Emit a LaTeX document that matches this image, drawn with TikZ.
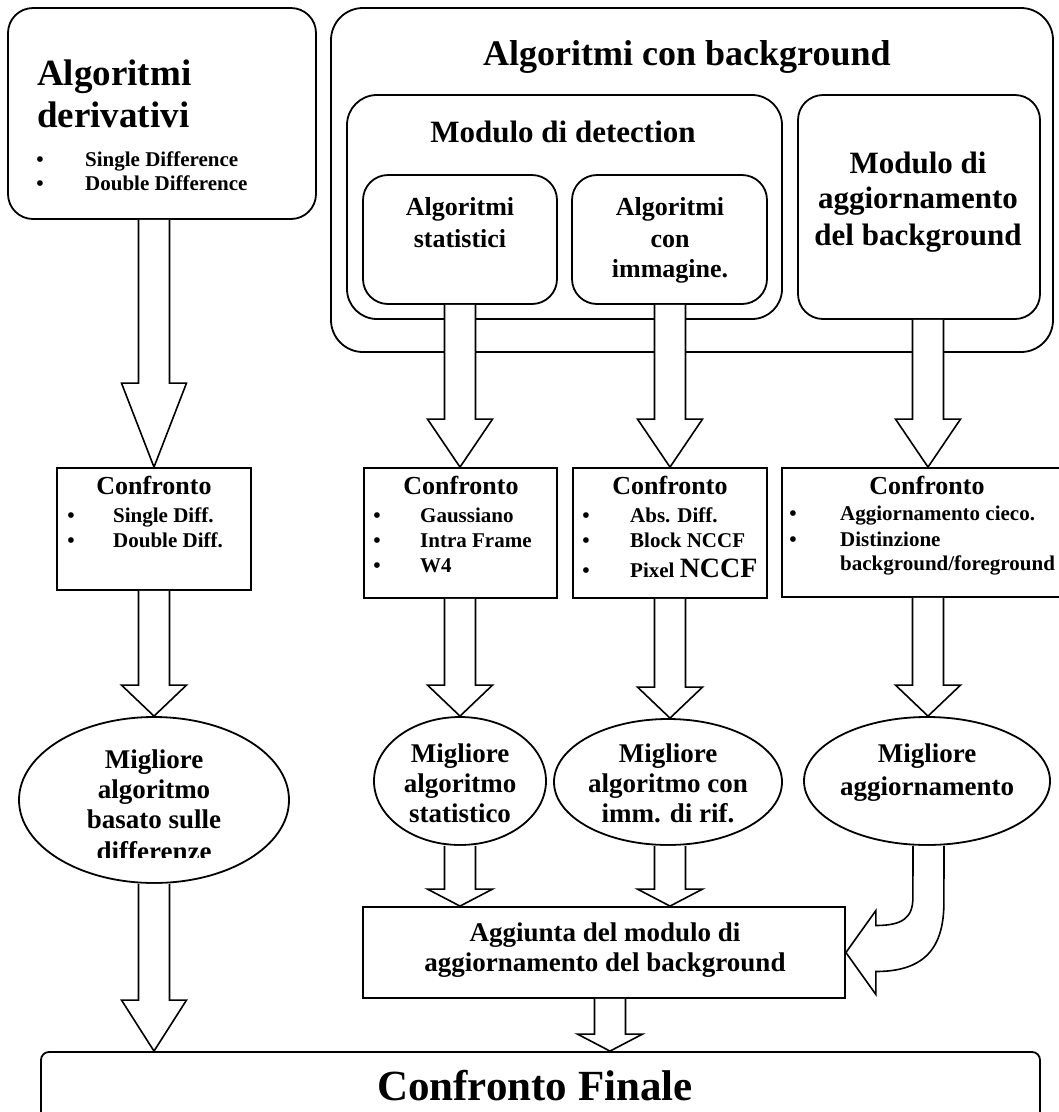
\documentclass[tikz,border=0pt]{standalone}
\usepackage{fontspec}
\setmainfont{Liberation Serif}
\usetikzlibrary{calc,shapes.geometric}
\tikzset{
  rbox/.style={draw, line width=1.8pt, rounded corners=#1, fill=white, inner sep=0pt},
  sbox/.style={draw, line width=1.8pt, fill=white, inner sep=0pt},
  ell/.style={draw, ellipse, line width=1.8pt, fill=white, inner sep=0pt},
  barrow/.style={draw, line width=1.6pt, fill=white, line join=miter},
  txt/.style={inner sep=0pt, anchor=base},
  txtw/.style={inner sep=0pt, anchor=base west},
}
\newcommand{\tc}[5]{\node[txt, font=\bfseries\fontsize{#4}{#4}\selectfont] (#1) at (#2,#3) {#5};}
\newcommand{\tw}[5]{\node[txtw, font=\bfseries\fontsize{#4}{#4}\selectfont] (#1) at (#2,#3) {#5};}
% vertical block arrow: #1 x centre, #2 start anchor, #3 end anchor, #4 head length
\newcommand{\varrow}[4]{%
  \draw[barrow] let \p1=(#2), \p2=(#3) in
    ({#1pt-15.5pt},\y1) -- ({#1pt-15.5pt},{\y2+#4pt}) -- ({#1pt-32.5pt},{\y2+#4pt})
    -- (#1pt,\y2) -- ({#1pt+32.5pt},{\y2+#4pt}) -- ({#1pt+15.5pt},{\y2+#4pt}) -- ({#1pt+15.5pt},\y1);}
\begin{document}
\begin{tikzpicture}[x=1pt,y=-1pt]
\useasboundingbox (0,0) rectangle (1059,1112);
\clip (0,0) rectangle (1059,1112);
\fill[white] (0,0) rectangle (1059,1112);
% ---- boxes
\node[rbox=25pt, minimum width=308pt, minimum height=211pt] (deriv) at (162,113.5) {};
\node[rbox=32pt, minimum width=722pt, minimum height=344pt] (bg) at (692,180) {};
\node[rbox=30pt, minimum width=435pt, minimum height=224pt] (det) at (564.5,207) {};
\node[rbox=25pt, minimum width=194pt, minimum height=129pt] (stat) at (460,239.5) {};
\node[rbox=25pt, minimum width=195pt, minimum height=129pt] (imm) at (669.5,239.5) {};
\node[rbox=25pt, minimum width=242pt, minimum height=224pt] (agg) at (919,207) {};
\node[sbox, minimum width=194pt, minimum height=122pt] (cA) at (154,529) {};
\node[sbox, minimum width=193pt, minimum height=130pt] (cB) at (460.5,533) {};
\node[sbox, minimum width=194pt, minimum height=130pt] (cC) at (670,533) {};
\node[sbox, minimum width=300pt, minimum height=129pt] (cD) at (932,532.5) {};
\node[ell, minimum width=270pt, minimum height=166pt] (e0) at (154,800) {};
\node[ell, minimum width=172pt, minimum height=128pt] (e1) at (460,781) {};
\node[ell, minimum width=228pt, minimum height=126pt] (e2) at (668,782) {};
\node[ell, minimum width=246pt, minimum height=128pt] (e3) at (927,781) {};
\node[sbox, minimum width=482pt, minimum height=91pt] (aggi) at (604,952.5) {};
\node[rbox=8pt, minimum width=999pt, minimum height=100pt] (fin) at (540.5,1102) {};
% ---- block arrows
\varrow{154}{deriv.south}{cA.north}{84}
\varrow{460}{stat.south}{cB.north}{48}
\varrow{670}{imm.south}{cC.north}{48}
\varrow{928}{agg.south}{cD.north}{48}
\varrow{154}{cA.south}{e0.north}{31}
\varrow{460}{cB.south}{e1.north}{31}
\varrow{670}{cC.south}{e2.north}{31}
\varrow{928}{cD.south}{e3.north}{31}
\varrow{154}{e0.south}{fin.north}{51}
\varrow{460}{e1.south}{aggi.north}{17}
\varrow{670}{e2.south}{aggi.north}{17}
\varrow{610}{aggi.south}{fin.north}{17}
% curved arrow from e3 into the Aggiunta box
\draw[barrow] let \p1=(e3.south), \p2=(aggi.east) in
  ({\x1-14pt},\y1) -- ({\x2+67pt},{\y2+55pt})
  .. controls ({\x2+67pt},{\y2+35pt}) and ({\x2+57pt},{\y2+27pt}) .. ({\x2+30pt},{\y2+27pt})
  -- ({\x2+30pt},{\y2+42pt}) -- (\x2,\y2) -- ({\x2+30pt},{\y2-42pt})
  -- ({\x2+30pt},{\y2-19pt})
  .. controls ({\x2+79pt},{\y2-19pt}) and ({\x2+98pt},{\y2+5pt}) .. ({\x2+98pt},{\y2+50pt})
  -- ({\x1+17pt},\y1);
% ---- texts
\tw{t1}{37}{85}{37}{Algoritmi}
\tw{t2}{37}{127}{37}{derivativi}
\tc{b1}{40}{166}{21}{•}
\tw{t3}{85}{166}{21}{Single Difference}
\tc{b2}{40}{190}{21}{•}
\tw{t4}{85}{190}{21}{Double Difference}
\tw{t5}{483}{65}{36}{Algoritmi con background}
\tc{t6}{563}{142}{31}{Modulo di detection}
\tc{t7}{460}{215}{26}{Algoritmi}
\tc{t8}{460}{247}{26}{statistici}
\tc{t9}{670}{215}{26}{Algoritmi}
\tc{t10}{670}{247}{26}{con}
\tc{t11}{670}{277}{26}{immagine.}
\tc{t12}{918}{173}{31}{Modulo di}
\tc{t13}{918}{208}{31}{aggiornamento}
\tc{t14}{918}{245}{31}{del background}
% confronto A
\tc{t15}{154}{494}{26}{Confronto}
\tc{b3}{71}{522}{21}{•}\tw{t16}{113}{522}{21}{Single Diff.}
\tc{b4}{71}{547}{21}{•}\tw{t17}{113}{547}{21}{Double Diff.}
% confronto B
\tc{t18}{461}{494}{26}{Confronto}
\tc{b5}{377}{522}{21}{•}\tw{t19}{420}{522}{21}{Gaussiano}
\tc{b6}{377}{547}{21}{•}\tw{t20}{420}{547}{21}{Intra Frame}
\tc{b7}{377}{572}{21}{•}\tw{t21}{420}{572}{21}{W4}
% confronto C
\tc{t22}{670}{494}{26}{Confronto}
\tc{b8}{586}{522}{21}{•}\tw{t23}{630}{522}{21}{Abs. Diff.}
\tc{b9}{586}{547}{21}{•}\tw{t24}{630}{547}{21}{Block NCCF}
\tc{b10}{586}{577}{21}{•}\tw{t25}{630}{577}{21}{Pixel {\fontsize{28}{28}\selectfont NCCF}}
% confronto D
\tc{t26}{927}{494}{26}{Confronto}
\tc{b11}{793}{520}{21}{•}\tw{t27}{840}{520}{21}{Aggiornamento cieco.}
\tc{b12}{793}{546}{21}{•}\tw{t28}{840}{546}{21}{Distinzione}
\tw{t29}{840}{570}{21}{background/foreground}
% ellipses
\tc{t30}{154}{768}{27}{Migliore}
\tc{t31}{154}{798}{27}{algoritmo}
\tc{t32}{154}{828}{27}{basato sulle}
\begin{scope}
\clip (0,0) rectangle (1059,857);
\tc{t33}{154}{860}{27}{differenze}
\end{scope}
\tc{t34}{460}{762}{27}{Migliore}
\tc{t35}{460}{792}{27}{algoritmo}
\tc{t36}{460}{822}{27}{statistico}
\tc{t37}{668}{762}{27}{Migliore}
\tc{t38}{668}{792}{27}{algoritmo con}
\tc{t39}{668}{822}{27}{imm. di rif.}
\tc{t40}{927}{762}{27}{Migliore}
\tc{t41}{927}{795}{27}{aggiornamento}
% aggiunta / finale
\tc{t42}{605}{941}{27}{Aggiunta del modulo di}
\tc{t43}{605}{971}{27}{aggiornamento del background}
\tc{t44}{535}{1100}{43}{Confronto Finale}
\end{tikzpicture}
\end{document}
